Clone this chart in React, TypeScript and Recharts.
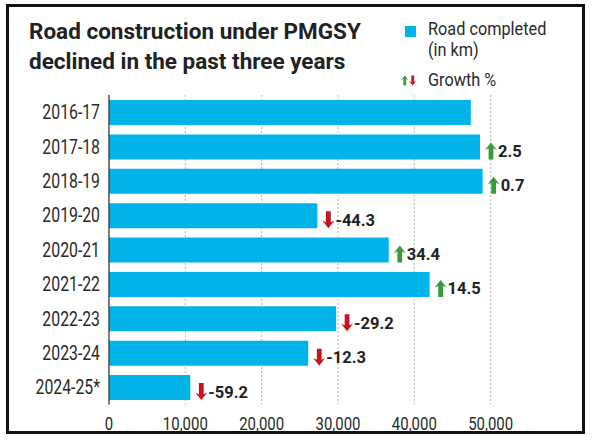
import React from 'react'
import { BarChart, Bar, XAxis, YAxis, CartesianGrid, LabelList } from 'recharts'

// ── Data ─────────────────────────────────────────────────────────────
const YEARS = ['2016-17', '2017-18', '2018-19', '2019-20', '2020-21', '2021-22', '2022-23', '2023-24', '2024-25*']
const ROAD_KM = [47400, 48600, 48950, 27300, 36650, 42000, 29750, 26100, 10650]
const GROWTH: (number | null)[] = [null, 2.5, 0.7, -44.3, 34.4, 14.5, -29.2, -12.3, -59.2]
const X_TICKS = [0, 10000, 20000, 30000, 40000, 50000]

const data = YEARS.map((year, i) => ({ year, km: ROAD_KM[i], growth: GROWTH[i] }))

const BLUE = '#00b4ea'
const GREEN = '#3a9a3c'
const RED = '#c8141e'
const FONT = 'Roboto, sans-serif'

// arrow centred on cx, spanning top..top+h
function arrowPath(cx: number, top: number, h: number, w: number, up: boolean) {
  const hw = w / 2
  const sw = w * 0.2
  const head = h * 0.45
  if (up) {
    return `M${cx},${top} L${cx + hw},${top + head} L${cx + sw},${top + head * 0.78} L${cx + sw},${top + h} L${cx - sw},${top + h} L${cx - sw},${top + head * 0.78} L${cx - hw},${top + head} Z`
  }
  const b = top + h
  return `M${cx},${b} L${cx + hw},${b - head} L${cx + sw},${b - head * 0.78} L${cx + sw},${top} L${cx - sw},${top} L${cx - sw},${b - head * 0.78} L${cx - hw},${b - head} Z`
}

function GrowthLabel(props: any) {
  const { x, y, width, height, value } = props
  if (value === null || value === undefined) return null
  const up = value >= 0
  const ax = x + width + 5
  const cy = y + height / 2 + 4
  return (
    <g>
      <path d={arrowPath(ax + 6, cy - 8.5, 17, 12, up)} fill={up ? GREEN : RED} />
      <text
        x={ax + 13}
        y={cy}
        dy="0.36em"
        fill="#222"
        fontFamily={FONT}
        fontWeight={700}
        fontSize={16.5}
      >
        {String(value)}
      </text>
    </g>
  )
}

// condensed tick text (no narrow face installed, so squeeze Roboto)
function YTick(props: any) {
  const { x, y, payload } = props
  return (
    <text
      transform={`translate(${x},${y}) scale(0.79,1)`}
      textAnchor="end"
      dy="0.355em"
      fill="#2a2a2a"
      fontFamily={FONT}
      fontSize={20}
    >
      {payload.value}
    </text>
  )
}

function XTick(props: any) {
  const { x, y, payload } = props
  return (
    <text
      transform={`translate(${x},${y}) scale(0.8,1)`}
      textAnchor="middle"
      dy="0.95em"
      fill="#2a2a2a"
      fontFamily={FONT}
      fontSize={18.7}
    >
      {Number(payload.value).toLocaleString('en-US')}
    </text>
  )
}

function SmallArrow({ up }: { up: boolean }) {
  return (
    <svg width={7.5} height={11} style={{ display: 'block' }}>
      <path d={arrowPath(3.75, 0.5, 10, 7, up)} fill={up ? GREEN : RED} />
    </svg>
  )
}

const legendText: React.CSSProperties = {
  position: 'absolute', left: 428, fontFamily: FONT, fontSize: 17.5, color: '#2a2a2a',
  transform: 'scaleX(0.93)', transformOrigin: 'left top', whiteSpace: 'nowrap',
}

export default function App() {
  return (
    <div style={{ position: 'absolute', left: 0, top: 0, width: 598, height: 441, background: '#fff' }}>
      {/* frame */}
      <div style={{
        position: 'absolute', left: 6, top: 4, width: 579, height: 430,
        border: '3px solid #111', boxSizing: 'border-box',
      }} />

      {/* title */}
      <div style={{
        position: 'absolute', left: 29, top: 17,
        fontFamily: FONT, fontWeight: 700, fontSize: 22.5,
        lineHeight: '29.5px', color: '#222', whiteSpace: 'nowrap',
      }}>
        Road construction under PMGSY<br />declined in the past three years
      </div>

      {/* legend */}
      <div style={{ position: 'absolute', left: 405, top: 26, width: 11, height: 11, background: BLUE }} />
      <div style={{ ...legendText, top: 18.5, lineHeight: '21px' }}>
        Road completed<br />(in km)
      </div>
      <div style={{ position: 'absolute', left: 401, top: 75, display: 'flex' }}>
        <SmallArrow up />
        <SmallArrow up={false} />
      </div>
      <div style={{ ...legendText, top: 69.5, lineHeight: '21px' }}>
        Growth %
      </div>

      {/* chart */}
      <div style={{ position: 'absolute', left: 0, top: 0 }}>
        <BarChart
          width={598}
          height={441}
          data={data}
          layout="vertical"
          margin={{ top: 95, right: 31, bottom: 6.5, left: 9 }}
          barSize={25}
        >
          <CartesianGrid
            horizontal={false}
            vertical
            verticalValues={X_TICKS}
            strokeDasharray="2 2"
            stroke="#b5b5b5"
          />
          <XAxis
            type="number"
            domain={[0, 60000]}
            ticks={X_TICKS}
            axisLine={false}
            tickLine={false}
            height={30}
            tick={<XTick />}
            interval={0}
          />
          <YAxis
            type="category"
            dataKey="year"
            width={100}
            axisLine={{ stroke: '#333', strokeWidth: 1.2 }}
            tickLine={false}
            tickSize={6}
            tickMargin={3}
            tick={<YTick />}
            interval={0}
          />
          <Bar dataKey="km" fill={BLUE} isAnimationActive={false}>
            <LabelList dataKey="growth" content={<GrowthLabel />} />
          </Bar>
        </BarChart>
      </div>
    </div>
  )
}
